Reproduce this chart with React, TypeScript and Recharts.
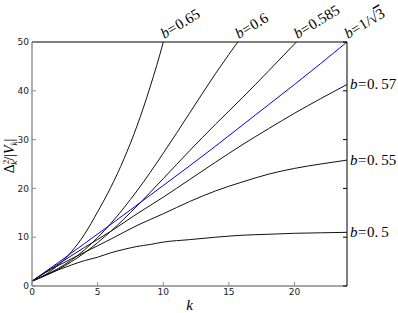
import React from 'react';
import { LineChart, Line, XAxis, YAxis, ReferenceDot, Label } from 'recharts';

// k values and Δ²/|V| values for each b
const k065 = [0, 1, 2, 3, 4, 5, 6, 7, 8, 9, 10, 10.5];
const v065 = [1, 2.3, 4.3, 7, 10.6, 15.2, 20.2, 26, 32.8, 40.8, 50, 55.5];

const k060 = [0, 1, 2, 4, 6, 8, 10, 12, 14, 16];
const v060 = [1, 2.2, 3.6, 7.4, 12.8, 19.5, 27.2, 35.4, 43.6, 51.2];

const k0585 = [0, 1, 2, 4, 6, 8, 10, 12, 14, 16, 18, 20, 21];
const v0585 = [1, 2.1, 3.4, 6.8, 11.2, 16.4, 22, 27.7, 33.2, 38.5, 44, 49.6, 52.4];

const kcrit = [0, 2, 4, 6, 8, 10, 12, 14, 16, 18, 20, 22, 24];
const vcrit = [1, 4.8, 8.7, 12.6, 16.6, 20.6, 24.6, 28.7, 32.9, 37.1, 41.3, 45.6, 50];

const k057 = [0, 1, 2, 4, 6, 8, 10, 12, 14, 16, 18, 20, 22, 24];
const v057 = [1, 2.8, 4.5, 7.9, 11.2, 14.8, 18.2, 21.8, 25.4, 28.9, 32.2, 35.4, 38.4, 41.3];

const k055 = [0, 1, 2, 4, 6, 8, 10, 12, 14, 16, 18, 20, 22, 24];
const v055 = [1, 2.7, 4.2, 6.9, 9.6, 12.4, 14.8, 17.3, 19.5, 21.3, 22.9, 24.1, 25, 25.8];

const k050 = [0, 1, 2, 3, 4, 5, 6, 7, 8, 9, 10, 12, 14, 16, 18, 20, 22, 24];
const v050 = [1, 2.2, 3.3, 4.3, 5.2, 5.9, 6.8, 7.5, 8.1, 8.5, 9, 9.5, 10, 10.4, 10.6, 10.8, 10.9, 11];

const xTicks = [0, 5, 10, 15, 20];
const yTicks = [0, 10, 20, 30, 40, 50];
const xDomain = [0, 24];
const yDomain = [0, 50];

const zip = (xs: number[], ys: number[]) => xs.map((x, i) => ({ x, y: ys[i] }));

type Curve = { id: string; label: string; data: { x: number; y: number }[]; color: string; side: 'top' | 'right'; crit?: boolean };

const curves: Curve[] = [
  { id: 'b065', label: '0.65', data: zip(k065, v065), color: '#111', side: 'top' },
  { id: 'b060', label: '0.6', data: zip(k060, v060), color: '#111', side: 'top' },
  { id: 'b0585', label: '0.585', data: zip(k0585, v0585), color: '#111', side: 'top' },
  { id: 'bcrit', label: '1/√3', data: zip(kcrit, vcrit), color: '#0000ff', side: 'top', crit: true },
  { id: 'b057', label: '0.\u200957', data: zip(k057, v057), color: '#111', side: 'right' },
  { id: 'b055', label: '0.\u200955', data: zip(k055, v055), color: '#111', side: 'right' },
  { id: 'b050', label: '0.\u20095', data: zip(k050, v050), color: '#111', side: 'right' },
];

// anchor where a curve leaves the frame
const anchorOf = (c: Curve) => {
  if (c.side === 'right') {
    const last = c.data[c.data.length - 1];
    return { x: last.x, y: last.y };
  }
  const top = yDomain[1];
  for (let i = 1; i < c.data.length; i++) {
    const a = c.data[i - 1];
    const b = c.data[i];
    if (b.y >= top) {
      const t = (top - a.y) / (b.y - a.y);
      return { x: a.x + t * (b.x - a.x), y: top };
    }
  }
  const last = c.data[c.data.length - 1];
  return { x: last.x, y: last.y };
};

const SERIF = '"Liberation Serif", "DejaVu Serif", serif';
const SANS = '"DejaVu Sans", sans-serif';

const renderCurveLabel = (c: Curve) => (props: any) => {
  const vb = props.viewBox || {};
  const cx = (vb.x ?? 0) + (vb.width ?? 0) / 2;
  const cy = (vb.y ?? 0) + (vb.height ?? 0) / 2;
  if (c.side === 'top') {
    const tx = cx + 1;
    const ty = cy - 3;
    return (
      <text x={tx} y={ty} transform={`rotate(-31 ${tx} ${ty})`} fontFamily={SERIF} fontSize={15} fill="#000">
        <tspan fontStyle="italic">b</tspan>
        <tspan dx={0.5}>=</tspan>
        {c.crit ? (
          <>
            <tspan dx={0.5}>1/√</tspan>
            <tspan style={{ textDecoration: 'overline' }}>3</tspan>
          </>
        ) : (
          <tspan dx={0.5}>{c.label}</tspan>
        )}
      </text>
    );
  }
  const tx = cx + 3;
  const ty = cy + 5;
  return (
    <text x={tx} y={ty} fontFamily={SERIF} fontSize={15} fill="#000">
      <tspan fontStyle="italic">b</tspan>
      <tspan dx={0.5}>=</tspan>
      <tspan dx={0.5}>{c.label}</tspan>
    </text>
  );
};

const renderYLabel = (props: any) => {
  const vb = props.viewBox || {};
  const x = vb.x - 17;
  const y = vb.y + vb.height / 2 - 8;
  return (
    <text x={x} y={y} transform={`rotate(-90 ${x} ${y})`} textAnchor="middle" fontFamily={SERIF} fontSize={14} fill="#000">
      <tspan>Δ</tspan>
      <tspan fontSize={9} dy={-5}>2</tspan>
      <tspan fontSize={9} fontStyle="italic" dx={-5} dy={8}>k</tspan>
      <tspan dy={-3}>/|</tspan>
      <tspan fontStyle="italic">V</tspan>
      <tspan fontSize={9} fontStyle="italic" dy={3}>k</tspan>
      <tspan dy={-3}>|</tspan>
    </text>
  );
};

const renderXLabel = (props: any) => {
  const vb = props.viewBox || {};
  const x = vb.x + vb.width / 2;
  const y = vb.y + 24;
  return (
    <text x={x} y={y} textAnchor="middle" fontFamily={SERIF} fontStyle="italic" fontSize={15} fill="#000">
      k
    </text>
  );
};

const GRAY = '#8a8a8a';
const TICK = 4;

// custom ticks: inward tick line + outward label
const BottomTick = (props: any) => {
  const { x, y, payload } = props;
  return (
    <g>
      <line x1={x} x2={x} y1={y} y2={y - TICK} stroke={GRAY} strokeWidth={1} />
      <text x={x} y={y + 3} dy="0.71em" textAnchor="middle" fontSize={9} fill="#222" fontFamily={SANS}>
        {payload.value}
      </text>
    </g>
  );
};
const LeftTick = (props: any) => {
  const { x, y, payload } = props;
  return (
    <g>
      <line x1={x} x2={x + TICK} y1={y} y2={y} stroke={GRAY} strokeWidth={1} />
      <text x={x - 3} y={y} dy="0.355em" textAnchor="end" fontSize={9} fill="#222" fontFamily={SANS}>
        {payload.value}
      </text>
    </g>
  );
};
const TopTick = (props: any) => {
  const { x, y } = props;
  return <line x1={x} x2={x} y1={y} y2={y + TICK} stroke="#000" strokeWidth={1} />;
};
const RightTick = (props: any) => {
  const { x, y } = props;
  return <line x1={x} x2={x - TICK} y1={y} y2={y} stroke="#000" strokeWidth={1} />;
};

export default function App() {
  return (
    <div style={{ position: 'absolute', left: 0, top: 0, background: '#fff' }}>
      <LineChart width={398} height={313} margin={{ top: 41, right: 50, bottom: 26, left: 31 }}>
        <XAxis xAxisId="x" orientation="bottom" type="number" dataKey="x" domain={xDomain} ticks={xTicks} allowDataOverflow
          height={1} tickSize={0} tickMargin={0} axisLine={{ stroke: GRAY, strokeWidth: 1.4 }} tickLine={false} tick={<BottomTick />}>
          <Label content={renderXLabel} />
        </XAxis>
        <YAxis yAxisId="y" orientation="left" type="number" dataKey="y" domain={yDomain} ticks={yTicks} allowDataOverflow
          width={1} tickSize={0} tickMargin={0} axisLine={{ stroke: GRAY, strokeWidth: 1.4 }} tickLine={false} tick={<LeftTick />}>
          <Label content={renderYLabel} />
        </YAxis>
        <XAxis xAxisId="xt" orientation="top" type="number" domain={xDomain} ticks={xTicks} allowDataOverflow
          height={1} tickSize={0} tickMargin={0} axisLine={{ stroke: '#000', strokeWidth: 1 }} tickLine={false} tick={<TopTick />} />
        <YAxis yAxisId="yr" orientation="right" type="number" domain={yDomain} ticks={yTicks} allowDataOverflow
          width={1} tickSize={0} tickMargin={0} axisLine={{ stroke: '#000', strokeWidth: 1 }} tickLine={false} tick={<RightTick />} />

        {curves.map((c) => (
          <Line key={c.id} xAxisId="x" yAxisId="y" data={c.data} dataKey="y" type="monotone"
            stroke={c.color} strokeWidth={1} dot={false} activeDot={false} isAnimationActive={false} />
        ))}
        {curves.map((c) => {
          const a = anchorOf(c);
          return (
            <ReferenceDot key={'lbl' + c.id} xAxisId="x" yAxisId="y" x={a.x} y={a.y} r={0}
              fill="none" stroke="none" ifOverflow="visible" label={renderCurveLabel(c)} />
          );
        })}
      </LineChart>
    </div>
  );
}
